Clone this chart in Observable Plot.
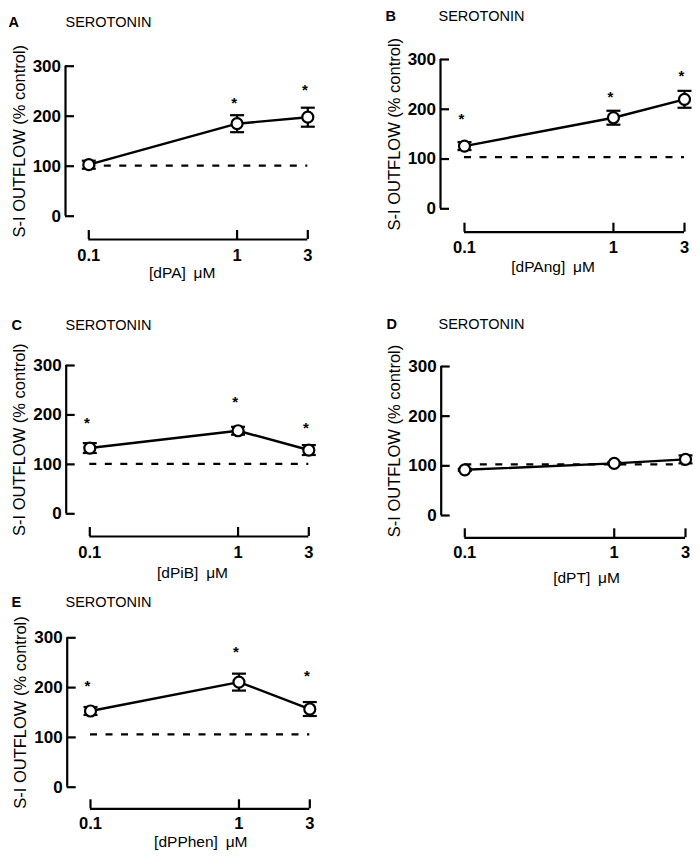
<!DOCTYPE html>
<html>
<head>
<meta charset="utf-8">
<script src="https://cdn.jsdelivr.net/npm/d3@7"></script>
<script src="https://cdn.jsdelivr.net/npm/@observablehq/plot@0.6"></script>
<style>
  html, body { margin: 0; padding: 0; background: #fff; }
  #fig { position: relative; width: 700px; height: 860px; background: #fff; overflow: hidden; }
  #fig > div { position: absolute; }
</style>
</head>
<body>
<div id="fig"></div>
<script>
// ---------- data ----------
const doses = [0.1, 1, 3];
const doseLabels = ["0.1", "1", "3"];
const yTicks = [0, 100, 200, 300];
const panelLetters = ["A", "B", "C", "D", "E"];
const panelTitle = "SEROTONIN";
const drugLabels = ["[dPA]", "[dPAng]", "[dPiB]", "[dPT]", "[dPPhen]"];
const unitLabel = "μM";
const yLabel = "S-I OUTFLOW (% control)";

const meanA = [103, 185, 198];
const semA = [8, 17, 19];
const starA = [null, 235, 261];

const meanB = [126, 183, 220];
const semB = [8, 14, 17];
const starB = [188, 233, 275];

const meanC = [133, 168, 129];
const semC = [10, 8, 10];
const starC = [192, 233, 182];

const meanD = [92, 105, 113];
const semD = [2, 2, 8];
const starD = [null, null, null];

const meanE = [153, 211, 157];
const semE = [8, 17, 14];
const starE = [211, 280, 231];

const controlLevels = [101, 104, 101, 103, 106];

const means = [meanA, meanB, meanC, meanD, meanE];
const sems = [semA, semB, semC, semD, semE];
const stars = [starA, starB, starC, starD, starE];

// ---------- layout (page pixels) ----------
const layout = [
  {left: 0,   top: 0,   w: 350, h: 290, axisX: 65,   y300: 65.7,  y0: 215.7, x0: 88.3,  x1: 307.3, xAxisY: 239,   tickDy: 16, letterX: 8,   titleX: 65,  titleY: 22,  labelX: 181.7, labelY: 273,   yLabelX: 19},
  {left: 350, top: 0,   w: 350, h: 290, axisX: 440,  y300: 59,    y0: 208.3, x0: 464,   x1: 684,   xAxisY: 231.7, tickDy: 16, letterX: 385, titleX: 438, titleY: 16,  labelX: 552.5, labelY: 266.7, yLabelX: 394.5},
  {left: 0,   top: 290, w: 350, h: 290, axisX: 65.7, y300: 365,   y0: 513.3, x0: 89.3,  x1: 308.3, xAxisY: 536,   tickDy: 16, letterX: 11,  titleX: 65,  titleY: 325, labelX: 192,   labelY: 572.5, yLabelX: 19},
  {left: 350, top: 290, w: 350, h: 290, axisX: 440.7,y300: 366,   y0: 515,   x0: 464.3, x1: 685,   xAxisY: 537.3, tickDy: 15, letterX: 386, titleX: 438, titleY: 324, labelX: 586,   labelY: 577.5, yLabelX: 394},
  {left: 0,   top: 570, w: 350, h: 290, axisX: 66.7, y300: 637.3, y0: 786.7, x0: 90,    x1: 309.3, xAxisY: 808.3, tickDy: 15, letterX: 11,  titleX: 65,  titleY: 602, labelX: 200.3, labelY: 842,   yLabelX: 20}
];

const font = "'Liberation Sans', Arial, Helvetica, sans-serif";
const capSymbol = {
  draw(ctx, size) {
    const r = Math.sqrt(size / Math.PI);
    ctx.moveTo(-r, 0);
    ctx.lineTo(r, 0);
  }
};

const fig = document.getElementById("fig");

layout.forEach((L, p) => {
  const pts = doses.map((d, i) => ({dose: d, mean: means[p][i], sem: sems[p][i], star: stars[p][i]}));
  const starPts = pts.filter(d => d.star != null);
  const tickPts = doses.map((d, i) => ({dose: d, label: doseLabels[i]}));

  const marginLeft = L.axisX - L.left;
  const marginTop = L.y300 - L.top;
  const frameBottom = L.xAxisY - L.top;
  const marginBottom = L.h - frameBottom;
  const marginRight = L.w - (L.x1 - L.left) - 10;
  const frameCenterX = (marginLeft + (L.w - marginRight)) / 2;
  const frameMidY = (marginTop + frameBottom) / 2;
  const axisMidY = ((L.y300 + L.y0) / 2) - L.top;

  const chart = Plot.plot({
    width: L.w,
    height: L.h,
    marginLeft, marginTop, marginBottom, marginRight,
    style: {fontFamily: font, background: "transparent", overflow: "visible", color: "black"},
    x: {type: "log", domain: [doses[0], doses[doses.length - 1]], range: [L.x0 - L.left, L.x1 - L.left]},
    y: {domain: [yTicks[0], yTicks[yTicks.length - 1]], range: [L.y0 - L.top, L.y300 - L.top]},
    marks: [
      // y axis
      Plot.ruleX([doses[0]], {y1: yTicks[0], y2: yTicks[yTicks.length - 1], dx: -(L.x0 - L.axisX), stroke: "black", strokeWidth: 2.2}),
      Plot.axisY(yTicks, {anchor: "left", tickSize: -9, tickPadding: 13.5, strokeWidth: 2.2, fontSize: 17, fontWeight: "bold", tickFormat: d => String(d), label: null}),
      // x axis
      Plot.ruleY([yTicks[0]], {x1: doses[0], x2: doses[doses.length - 1], dy: L.xAxisY - L.y0, stroke: "black", strokeWidth: 2.2}),
      Plot.axisX(doses, {anchor: "bottom", tickSize: -9, strokeWidth: 2.2, fill: "none", label: null}),
      Plot.text(tickPts, {x: "dose", text: "label", frameAnchor: "bottom", dy: L.tickDy, lineAnchor: "middle", textAnchor: "middle", fontSize: 16.5, fontWeight: "bold", fill: "black"}),
      // control level
      Plot.ruleY([controlLevels[p]], {x1: doses[0], x2: doses[doses.length - 1], stroke: "black", strokeWidth: 2.2, strokeDasharray: "7,8.5"}),
      // series
      Plot.line(pts, {x: "dose", y: "mean", stroke: "black", strokeWidth: 2.4}),
      Plot.ruleX(pts, {x: "dose", y1: d => d.mean - d.sem, y2: d => d.mean + d.sem, stroke: "black", strokeWidth: 2.2}),
      Plot.dot(pts, {x: "dose", y: d => d.mean + d.sem, symbol: capSymbol, r: 7, fill: "none", stroke: "black", strokeWidth: 2.2}),
      Plot.dot(pts, {x: "dose", y: d => d.mean - d.sem, symbol: capSymbol, r: 7, fill: "none", stroke: "black", strokeWidth: 2.2}),
      Plot.dot(pts, {x: "dose", y: "mean", r: 5.5, fill: "white", stroke: "black", strokeWidth: 2.2}),
      Plot.text(starPts, {x: "dose", y: "star", text: () => "*", dx: -3, dy: 4, fontSize: 15, fontWeight: "bold", fill: "black"}),
      // labels
      Plot.text([panelLetters[p]], {frameAnchor: "top-left", dx: L.letterX - L.axisX, dy: L.titleY - L.y300, textAnchor: "start", lineAnchor: "middle", fontSize: 14.5, fontWeight: "bold", fill: "black"}),
      Plot.text([panelTitle], {frameAnchor: "top-left", dx: L.titleX - L.axisX, dy: L.titleY - L.y300, textAnchor: "start", lineAnchor: "middle", fontSize: 14.5, fill: "black"}),
      Plot.text([yLabel], {frameAnchor: "left", rotate: -90, dx: L.yLabelX - L.axisX, dy: axisMidY - frameMidY, textAnchor: "middle", lineAnchor: "middle", fontSize: 16.5, fill: "black"}),
      Plot.text([drugLabels[p] + "\u2002" + unitLabel], {frameAnchor: "bottom", dx: (L.labelX - L.left) - frameCenterX, dy: L.labelY - L.xAxisY, textAnchor: "middle", lineAnchor: "middle", fontSize: 15.5, fill: "black"})
    ]
  });
  const holder = document.createElement("div");
  holder.style.left = L.left + "px";
  holder.style.top = L.top + "px";
  holder.appendChild(chart);
  fig.appendChild(holder);
});
</script>
</body>
</html>
